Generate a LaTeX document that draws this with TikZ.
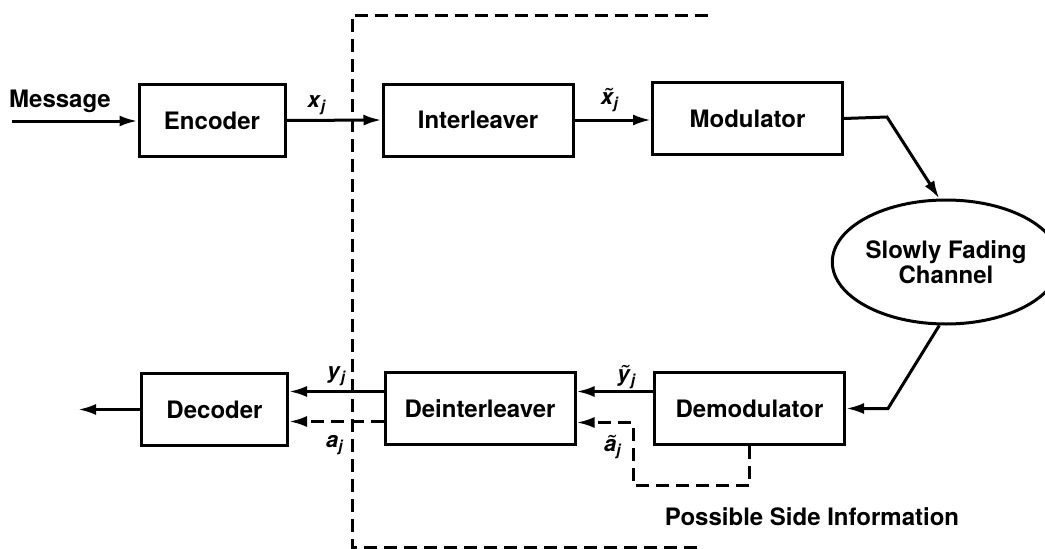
\documentclass[tikz,border=0pt]{standalone}
\usepackage{fontspec}
\setmainfont{TeX Gyre Heros}
\usetikzlibrary{arrows.meta,shapes.geometric,calc}
\newcommand\lbl[2]{\textbf{\textit{#1}}\textsubscript{\textbf{\textit{#2}}}}
\begin{document}
\begin{tikzpicture}[x=1pt,y=-1pt,
  txt/.style={font=\fontsize{24}{28}\selectfont\bfseries},
  blk/.style={draw,line width=3pt,minimum height=72pt,inner sep=0pt,txt},
  wide/.style={blk,minimum width=190pt},
  narrow/.style={blk,minimum width=146pt},
  conn/.style={line width=3pt,-{Latex[length=18pt,width=11pt]}},
  dconn/.style={conn,dash pattern=on 13pt off 7pt},
  frame/.style={line width=3pt,dash pattern=on 13pt off 7pt},
  sym/.style={font=\fontsize{22}{26}\selectfont}]
\useasboundingbox (0,0) rectangle (1045,549);
\fill[white] (0,0) rectangle (1045,549);

% blocks
\node[narrow] (enc) at (212,120.5) {Encoder};
\node[wide] (int) at (478,120) {Interleaver};
\node[wide] (mod) at (747.5,118.5) {Modulator};
\node[draw,ellipse,line width=3pt,minimum width=192pt,minimum height=124pt,inner sep=0pt,align=center,txt] (chan) at (946,262) {Slowly Fading\\[-3pt]Channel};
\node[wide] (dem) at (749.5,408.5) {Demodulator};
\node[wide] (deint) at (480,408.5) {Deinterleaver};
\node[narrow] (dec) at (214.5,409.5) {Decoder};

% free ends and corners
\coordinate (msg) at (12,121);
\coordinate (out) at (78,409.5);
\coordinate (k1) at (887,117);
\coordinate (k2) at (888,408.5);
\coordinate (side) at (633,485);

% dashed frame
\coordinate (f1) at (708,15);
\coordinate (f2) at (352,15);
\coordinate (f3) at (352,547);
\coordinate (f4) at (697,547);
\draw[frame] (f1) -- (f2) -- (f3) -- (f4);

% connectors
\draw[conn] (msg) -- (msg -| enc.west);
\draw[conn] (enc.east) -- (int.west);
\draw[conn] (int.east) -- (int.east -| mod.west);
\draw[conn] (mod.east) -- (k1) -- (chan.96);
\draw[conn] (chan.264) -- (k2) -- (dem.east);
\draw[conn] ([yshift=17pt]dem.west) -- ([yshift=17pt]dem.west -| deint.east);
\draw[dconn] (dem.south) |- (side) |- ([yshift=-14pt]deint.east);
\draw[conn] ([yshift=17pt]deint.west) -- ([yshift=17pt]deint.west -| dec.east);
\draw[dconn] ([yshift=-13pt]deint.west) -- ([yshift=-13pt]deint.west -| dec.east);
\draw[conn] (dec.west) -- (out);

% labels
\node[txt] (lmsg) at (60,101) {Message};
\node[sym] (lx) at (317,105) {\lbl{x}{j}};
\node[sym] (lxt) at (610,100) {\lbl{\~{x}}{j}};
\node[sym] (ly) at (337,376) {\lbl{y}{j}};
\node[sym] (la) at (335,445) {\lbl{a}{j}};
\node[sym] (lyt) at (627,377) {\lbl{\~{y}}{j}};
\node[sym] (lat) at (613,447) {\lbl{\~{a}}{j}};
\node[txt] (lside) at (812,517) {Possible Side Information};
\end{tikzpicture}
\end{document}
